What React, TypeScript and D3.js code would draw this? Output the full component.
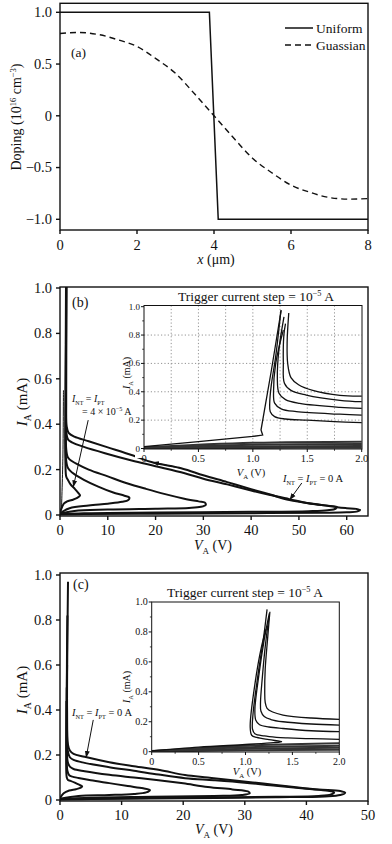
import React from 'react';
import * as d3 from 'd3';

type Pt = [number, number];

const FONT = '"Liberation Serif", "Times New Roman", Times, serif';
const INK = '#111';

// ---------- (a) doping profiles ----------
const uniformX = [0, 3.88, 4.11, 8];
const uniformDoping = [1, 1, -1, -1];
const gaussX = [0, 0.5, 1, 1.5, 2, 2.5, 3, 3.5, 4, 4.5, 5, 5.5, 6, 6.5, 7, 7.5, 8];
const gaussDoping = [0.795, 0.805, 0.785, 0.735, 0.67, 0.55, 0.41, 0.21, 0, -0.21, -0.41, -0.55, -0.67, -0.74, -0.79, -0.805, -0.8];
const dopingTicksX = [0, 2, 4, 6, 8];
const dopingTicksY = [-1, -0.5, 0, 0.5, 1];
const dopingLabelsY = ['\u22121.0', '\u22120.5', '0', '0.5', '1.0'];

// ---------- shared ticks ----------
const currentTicks = [0, 0.2, 0.4, 0.6, 0.8, 1.0];
const currentLabels = ['0', '0.2', '0.4', '0.6', '0.8', '1.0'];
const bTicksV = [0, 10, 20, 30, 40, 50, 60];
const cTicksV = [0, 10, 20, 30, 40, 50];
const insetTicksV = [0, 0.5, 1, 1.5, 2];
const insetLabelsV = ['0', '0.5', '1.0', '1.5', '2.0'];
const insetMinorV = [0.25, 0.75, 1.25, 1.75];
const insetMinorI = [0.1, 0.3, 0.5, 0.7, 0.9];
const gridV = [0.25, 0.5, 0.75, 1, 1.25, 1.5, 1.75];
const gridI = [0.2, 0.4, 0.6, 0.8];

// ---------- (b) uniform doping, I-V loops (V, mA) ----------
const bLoop0: Pt[] = [[0, 0.002], [5, 0.004], [20, 0.006], [40, 0.008], [55, 0.01], [60, 0.012], [62.3, 0.016], [62.8, 0.022], [62, 0.027], [60, 0.03], [58, 0.034], [54, 0.046], [48, 0.066], [44, 0.09], [40, 0.114], [35, 0.145], [30, 0.175], [25.5, 0.205], [19.3, 0.232], [15.3, 0.262], [10, 0.298], [6, 0.325], [3, 0.345], [1.8, 0.362], [1.4, 0.39], [1.3, 0.5], [1.3, 0.7], [1.35, 1.03]];
const bLoop1: Pt[] = [[0, 0.004], [5, 0.008], [20, 0.011], [40, 0.014], [52, 0.017], [56, 0.021], [57.7, 0.028], [57.9, 0.036], [56.5, 0.04], [53, 0.048], [48, 0.07], [44, 0.088], [40, 0.108], [35, 0.135], [30, 0.16], [26.1, 0.184], [20, 0.215], [15, 0.24], [9.4, 0.272], [5, 0.3], [2.5, 0.32], [1.7, 0.332], [1.35, 0.36], [1.25, 0.5], [1.28, 0.7], [1.32, 1.03]];
const bLoop2: Pt[] = [[0, 0.006], [3, 0.018], [10, 0.024], [20, 0.028], [27, 0.031], [29.5, 0.036], [30.5, 0.045], [30.3, 0.055], [29, 0.06], [26, 0.072], [22, 0.092], [18, 0.115], [14, 0.14], [10, 0.17], [6, 0.2], [3.5, 0.225], [2, 0.245], [1.6, 0.256], [1.3, 0.29], [1.22, 0.45], [1.25, 0.7], [1.3, 1.03]];
const bLoop3: Pt[] = [[0, 0.008], [2, 0.03], [6, 0.042], [10, 0.05], [13, 0.058], [14.3, 0.066], [14.5, 0.077], [13.5, 0.085], [11, 0.1], [8, 0.125], [5, 0.155], [3, 0.18], [2, 0.198], [1.6, 0.21], [1.25, 0.25], [1.2, 0.45], [1.25, 0.75], [1.28, 1.03]];
const bLoop4: Pt[] = [[0, 0.01], [0.8, 0.05], [1.5, 0.06], [2.5, 0.066], [3.6, 0.075], [4.2, 0.086], [3.9, 0.095], [3.1, 0.115], [2.2, 0.135], [1.7, 0.153], [1.3, 0.17], [1.15, 0.22], [1.12, 0.4], [1.2, 0.75], [1.26, 1.03]];
const bThin: Pt[] = [[0.3, 0.02], [0.6, 0.25], [0.72, 0.55]];
const bLoops = [bLoop0, bLoop1, bLoop2, bLoop3, bLoop4];

// (b) inset, 0..2 V
const ibRise: Pt[] = [[0, 0.013], [0.5, 0.048], [1.0, 0.085], [1.09, 0.095], [1.075, 0.13], [1.17, 0.55], [1.26, 0.975]];
const ibUp1: Pt[] = [[2.0, 0.37], [1.8, 0.375], [1.55, 0.41], [1.42, 0.45], [1.35, 0.5], [1.32, 0.6], [1.315, 0.75], [1.33, 0.956]];
const ibUp2: Pt[] = [[2.0, 0.33], [1.8, 0.34], [1.49, 0.377], [1.35, 0.41], [1.29, 0.46], [1.28, 0.6], [1.285, 0.8], [1.3, 0.88]];
const ibUp3: Pt[] = [[2.0, 0.283], [1.8, 0.29], [1.43, 0.318], [1.3, 0.345], [1.24, 0.39], [1.225, 0.5], [1.24, 0.7], [1.286, 0.928]];
const ibUp4: Pt[] = [[2.0, 0.236], [1.8, 0.242], [1.4, 0.26], [1.26, 0.28], [1.2, 0.32], [1.19, 0.4], [1.21, 0.6], [1.28, 0.835]];
const ibUp5: Pt[] = [[2.0, 0.182], [1.75, 0.19], [1.5, 0.2], [1.3, 0.208], [1.2, 0.225], [1.16, 0.26], [1.155, 0.32], [1.17, 0.45], [1.21, 0.65], [1.258, 0.975]];
const ibUpper = [ibUp1, ibUp2, ibUp3, ibUp4, ibUp5];
const ibLow: Pt[][] = [
  [[0, 0.008], [1, 0.04], [2, 0.048]],
  [[0, 0.006], [1, 0.026], [2, 0.032]],
  [[0, 0.004], [1, 0.014], [2, 0.018]],
  [[0, 0.002], [1, 0.004], [2, 0.006]],
];

// ---------- (c) gaussian doping ----------
const cLoop0: Pt[] = [[0, 0.002], [5, 0.004], [20, 0.008], [35, 0.012], [43, 0.016], [45.5, 0.022], [46.3, 0.032], [45.5, 0.04], [42, 0.047], [38, 0.058], [33, 0.073], [28, 0.088], [24, 0.1], [20.3, 0.111], [16.2, 0.133], [12, 0.15], [8, 0.168], [4, 0.192], [2.2, 0.205], [1.6, 0.22], [1.3, 0.245], [1.15, 0.4], [1.2, 0.7], [1.3, 0.97]];
const cLoop1: Pt[] = [[0, 0.003], [5, 0.006], [20, 0.01], [35, 0.014], [42, 0.018], [44, 0.025], [44.5, 0.034], [43.5, 0.041], [40, 0.05], [35, 0.063], [30, 0.077], [25, 0.088], [20.3, 0.097], [16, 0.113], [12, 0.13], [8, 0.146], [4, 0.165], [2.2, 0.178], [1.6, 0.19], [1.25, 0.22], [1.12, 0.4], [1.15, 0.7], [1.2, 0.82]];
const cLoop2: Pt[] = [[0, 0.004], [5, 0.01], [15, 0.014], [25, 0.018], [29.5, 0.022], [30.8, 0.03], [30.5, 0.038], [28, 0.047], [24, 0.058], [20, 0.074], [16, 0.088], [12, 0.1], [8, 0.112], [4, 0.128], [2.2, 0.138], [1.6, 0.148], [1.25, 0.17], [1.1, 0.35], [1.15, 0.6]];
const cLoop3: Pt[] = [[0, 0.006], [3, 0.018], [8, 0.022], [12, 0.027], [14, 0.034], [14.6, 0.044], [13.5, 0.052], [11, 0.062], [8, 0.075], [5, 0.088], [3, 0.098], [2, 0.104], [1.5, 0.11], [1.2, 0.13], [1.08, 0.3], [1.1, 0.5]];
const cLoop4: Pt[] = [[0, 0.008], [0.6, 0.03], [1.5, 0.042], [2.6, 0.048], [3.3, 0.054], [3.6, 0.06], [3.1, 0.068], [2.4, 0.077], [1.7, 0.085], [1.3, 0.089], [1.1, 0.1], [1.0, 0.2], [1.05, 0.44]];
const cLoops = [cLoop0, cLoop1, cLoop2, cLoop3, cLoop4];

// (c) inset
const icUp1: Pt[] = [[2.0, 0.216], [1.7, 0.225], [1.4, 0.245], [1.29, 0.265], [1.23, 0.29], [1.21, 0.33], [1.205, 0.4], [1.21, 0.55], [1.235, 0.75], [1.26, 0.935]];
const icUp2: Pt[] = [[2.0, 0.178], [1.7, 0.185], [1.4, 0.2], [1.27, 0.215], [1.2, 0.235], [1.165, 0.27], [1.16, 0.33], [1.18, 0.5], [1.21, 0.7], [1.25, 0.9]];
const icUp3: Pt[] = [[2.0, 0.134], [1.7, 0.14], [1.4, 0.155], [1.25, 0.165], [1.15, 0.18], [1.11, 0.21], [1.1, 0.28], [1.14, 0.5], [1.2, 0.75], [1.254, 0.924]];
const icUp4: Pt[] = [[2.0, 0.083], [1.7, 0.087], [1.45, 0.092], [1.33, 0.096], [1.2, 0.105], [1.1, 0.12], [1.075, 0.15], [1.08, 0.25], [1.13, 0.5], [1.19, 0.75], [1.23, 0.951]];
const icTip: Pt[] = [[0, 0.005], [0.5, 0.03], [1.0, 0.048], [1.3, 0.06], [1.385, 0.067], [1.25, 0.08], [1.12, 0.095], [1.066, 0.11], [1.05, 0.167], [1.1, 0.45], [1.17, 0.7], [1.22, 0.82]];
const icUpper = [icUp1, icUp2, icUp3, icUp4, icTip];
const icLow: Pt[][] = [
  [[0, 0.004], [1, 0.04], [2, 0.056]],
  [[0, 0.003], [1, 0.03], [2, 0.04]],
  [[0, 0.002], [1, 0.02], [2, 0.027]],
  [[0, 0.001], [1, 0.009], [2, 0.013]],
];

// annotation arrows (data units)
const bArrow4: Pt[] = [[5.9, 0.418], [2.8, 0.125]];
const bArrow0: Pt[] = [[50.6, 0.141], [48.1, 0.068]];
const bSweep: Pt[] = [[25.5, 0.205], [19.4, 0.232]];
const cArrow0: Pt[] = [[5.4, 0.356], [4.25, 0.19]];

const mkLine = (x: any, y: any, curve: any = d3.curveCatmullRom.alpha(0.5)) =>
  d3.line<Pt>().x(d => x(d[0])).y(d => y(d[1])).curve(curve);

type Box = { left: number; right: number; top: number; bottom: number };

function Axes(p: {
  box: Box; x: any; y: any; xt: number[]; xl: string[]; yt: number[]; yl: string[];
  fsX: number; fsY: number; xDy: number; yDx: number; tick: number; sw: number;
  xm?: number[]; ym?: number[];
}) {
  const { box, x, y } = p;
  return (
    <g fill={INK}>
      <rect x={box.left} y={box.top} width={box.right - box.left} height={box.bottom - box.top}
        fill="none" stroke={INK} strokeWidth={p.sw} />
      {p.xt.map((v, i) => (
        <g key={'xt' + i}>
          <line x1={x(v)} x2={x(v)} y1={box.bottom} y2={box.bottom + p.tick} stroke={INK} strokeWidth={p.sw} />
          <text x={x(v)} y={box.bottom + p.xDy} textAnchor="middle" fontSize={p.fsX}>{p.xl[i]}</text>
        </g>
      ))}
      {(p.xm || []).map((v, i) => (
        <line key={'xm' + i} x1={x(v)} x2={x(v)} y1={box.bottom} y2={box.bottom + p.tick * 0.6} stroke={INK} strokeWidth={p.sw * 0.8} />
      ))}
      {p.yt.map((v, i) => (
        <g key={'yt' + i}>
          <line x1={box.left - p.tick} x2={box.left} y1={y(v)} y2={y(v)} stroke={INK} strokeWidth={p.sw} />
          <text x={box.left - p.yDx} y={y(v) + p.fsY * 0.34} textAnchor="end" fontSize={p.fsY}>{p.yl[i]}</text>
        </g>
      ))}
      {(p.ym || []).map((v, i) => (
        <line key={'ym' + i} x1={box.left - p.tick * 0.6} x2={box.left} y1={y(v)} y2={y(v)} stroke={INK} strokeWidth={p.sw * 0.8} />
      ))}
    </g>
  );
}

function IA({ x, y, fs }: { x: number; y: number; fs: number }) {
  return (
    <text transform={`translate(${x},${y}) rotate(-90)`} textAnchor="middle" fontSize={fs} fill={INK}>
      <tspan fontStyle="italic">I</tspan>
      <tspan fontSize={fs * 0.65} dy={fs * 0.25}>A</tspan>
      <tspan dy={-fs * 0.25}> (mA)</tspan>
    </text>
  );
}

function VA({ x, y, fs }: { x: number; y: number; fs: number }) {
  return (
    <text x={x} y={y} textAnchor="middle" fontSize={fs} fill={INK}>
      <tspan fontStyle="italic">V</tspan>
      <tspan fontSize={fs * 0.65} dy={fs * 0.25}>A</tspan>
      <tspan dy={-fs * 0.25}> (V)</tspan>
    </text>
  );
}

function Inj({ fs }: { fs: number }) {
  return (
    <>
      <tspan fontStyle="italic">I</tspan>
      <tspan fontSize={fs * 0.6} dy={fs * 0.25}>NT</tspan>
      <tspan dy={-fs * 0.25}> = </tspan>
      <tspan fontStyle="italic">I</tspan>
      <tspan fontSize={fs * 0.6} dy={fs * 0.25}>PT</tspan>
      <tspan dy={-fs * 0.25}>{'\u00a0'}</tspan>
    </>
  );
}

function Trigger({ x, y, fs }: { x: number; y: number; fs: number }) {
  return (
    <text x={x} y={y} textAnchor="middle" fontSize={fs} fill={INK}>
      Trigger current step = 10
      <tspan fontSize={fs * 0.62} dy={-fs * 0.38}>{'\u22125'}</tspan>
      <tspan dy={fs * 0.38}> A</tspan>
    </text>
  );
}

export default function App() {
  // ----- (a) -----
  const boxA: Box = { left: 60, right: 368, top: 3.3, bottom: 230 };
  const xa = d3.scaleLinear().domain([0, 8]).range([60, 368]);
  const ya = d3.scaleLinear().domain([-1, 1]).range([219.3, 12.3]);
  const uniformPath = mkLine(xa, ya, d3.curveLinear)(uniformX.map((v, i) => [v, uniformDoping[i]] as Pt));
  const gaussPath = mkLine(xa, ya, d3.curveMonotoneX)(gaussX.map((v, i) => [v, gaussDoping[i]] as Pt));

  // ----- (b) -----
  const boxB: Box = { left: 60, right: 368, top: 287, bottom: 516 };
  const xb = d3.scaleLinear().domain([0, 60]).range([60, 346.7]);
  const yb = d3.scaleLinear().domain([0, 1]).range([515, 288]);
  const lb = mkLine(xb, yb);
  const boxBi: Box = { left: 144, right: 362, top: 305.5, bottom: 449 };
  const xbi = d3.scaleLinear().domain([0, 2]).range([144, 361.7]);
  const ybi = d3.scaleLinear().domain([0, 1]).range([448.5, 306.7]);
  const lbi = mkLine(xbi, ybi);

  // ----- (c) -----
  const boxC: Box = { left: 60, right: 368, top: 573, bottom: 801 };
  const xc = d3.scaleLinear().domain([0, 50]).range([60, 368]);
  const yc = d3.scaleLinear().domain([0, 1]).range([800, 575]);
  const lc = mkLine(xc, yc);
  const boxCi: Box = { left: 151.7, right: 339.3, top: 602, bottom: 752 };
  const xci = d3.scaleLinear().domain([0, 2]).range([151.7, 339.3]);
  const yci = d3.scaleLinear().domain([0, 1]).range([751.7, 602]);
  const lci = mkLine(xci, yci);

  const straight = (x: any, y: any) => mkLine(x, y, d3.curveLinear);

  const clip = (id: string, b: Box) => (
    <clipPath id={id}>
      <rect x={b.left} y={b.top} width={b.right - b.left} height={b.bottom - b.top} />
    </clipPath>
  );

  return (
    <svg width={392} height={844} style={{ position: 'absolute', left: 0, top: 0, background: '#fff' }}
      fontFamily={FONT}>
      <defs>
        {clip('cb', boxB)}
        {clip('cbi', boxBi)}
        {clip('cc', boxC)}
        {clip('cci', boxCi)}
        <marker id="arr" viewBox="0 0 10 10" refX="9" refY="5" markerWidth="7" markerHeight="7"
          orient="auto" markerUnits="userSpaceOnUse">
          <path d="M0,1.5 L10,5 L0,8.5 z" fill={INK} />
        </marker>
      </defs>

      {/* ---------- panel (a) ---------- */}
      <Axes box={boxA} x={xa} y={ya} xt={dopingTicksX} xl={dopingTicksX.map(String)}
        yt={dopingTicksY} yl={dopingLabelsY} fsX={14.5} fsY={14.5} xDy={20} yDx={8} tick={4} sw={1.4} />
      <path d={uniformPath || ''} fill="none" stroke={INK} strokeWidth={1.5} />
      <path d={gaussPath || ''} fill="none" stroke={INK} strokeWidth={1.4} strokeDasharray="6 4" />
      <line x1={285} x2={313} y1={28} y2={28} stroke={INK} strokeWidth={1.5} />
      <text x={316} y={33} fontSize={13.5} fill={INK}>Uniform</text>
      <line x1={285} x2={313} y1={45} y2={45} stroke={INK} strokeWidth={1.4} strokeDasharray="6 4" />
      <text x={316} y={50} fontSize={13.5} fill={INK}>Guassian</text>
      <text x={71} y={57} fontSize={13.5} fill={INK}>(a)</text>
      <text transform="translate(21,117) rotate(-90)" textAnchor="middle" fontSize={14} fill={INK}>
        Doping (10<tspan fontSize={8.5} dy={-5}>16</tspan><tspan dy={5}> cm</tspan>
        <tspan fontSize={8.5} dy={-5}>{'\u22123'}</tspan><tspan dy={5}>)</tspan>
      </text>
      <text x={216} y={264} textAnchor="middle" fontSize={14} fill={INK}>
        <tspan fontStyle="italic">x</tspan> ({'\u03bc'}m)
      </text>

      {/* ---------- panel (b) ---------- */}
      <Axes box={boxB} x={xb} y={yb} xt={bTicksV} xl={bTicksV.map(String)}
        yt={currentTicks} yl={currentLabels} fsX={14.5} fsY={14.5} xDy={19} yDx={8} tick={4} sw={1.4} />
      <g clipPath="url(#cb)" fill="none" stroke={INK}>
        {bLoops.map((d, i) => <path key={i} d={lb(d) || ''} strokeWidth={2} />)}
        <path d={lb(bThin) || ''} strokeWidth={1} />
      </g>
      <text x={72} y={307} fontSize={14} fill={INK}>(b)</text>
      <IA x={27} y={402} fs={15} />
      <VA x={213} y={550} fs={14} />

      {/* inset (b) */}
      <rect x={135} y={289} width={231} height={169} fill="#fff" />
      <Trigger x={256} y={301} fs={13.5} />
      <g clipPath="url(#cbi)">
        {gridV.map((v, i) => (
          <line key={'gv' + i} x1={xbi(v)} x2={xbi(v)} y1={boxBi.top} y2={boxBi.bottom} stroke="#777" strokeWidth={0.8} strokeDasharray="1.2 2.2" />
        ))}
        {gridI.map((v, i) => (
          <line key={'gi' + i} x1={boxBi.left} x2={boxBi.right} y1={ybi(v)} y2={ybi(v)} stroke="#777" strokeWidth={0.8} strokeDasharray="1.2 2.2" />
        ))}
        <g fill="none">
          {ibLow.map((d, i) => <path key={i} d={lbi(d) || ''} stroke="#333" strokeWidth={2} />)}
          <path d={straight(xbi, ybi)(ibRise) || ''} stroke={INK} strokeWidth={1.3} />
          {ibUpper.map((d, i) => <path key={i} d={lbi(d) || ''} stroke={INK} strokeWidth={1.3} />)}
        </g>
      </g>
      <Axes box={boxBi} x={xbi} y={ybi} xt={insetTicksV} xl={insetLabelsV}
        yt={currentTicks} yl={currentLabels} fsX={10.5} fsY={9} xDy={13} yDx={4} tick={3} sw={1}
        xm={insetMinorV} ym={insetMinorI} />
      <IA x={130} y={373} fs={10} />
      <VA x={251} y={476} fs={10.5} />
      <path d={straight(xb, yb)(bSweep) || ''} stroke={INK} strokeWidth={1} markerEnd="url(#arr)" />

      {/* (b) annotations */}
      <path d={straight(xb, yb)(bArrow4) || ''} stroke={INK} strokeWidth={1} markerEnd="url(#arr)" />
      <path d={straight(xb, yb)(bArrow0) || ''} stroke={INK} strokeWidth={1} markerEnd="url(#arr)" />
      <text x={72} y={402} fontSize={10} fill={INK}><Inj fs={10} /></text>
      <text x={82} y={415} fontSize={10} fill={INK}>
        = 4 {'\u00d7'} 10<tspan fontSize={6.2} dy={-4}>{'\u22125'}</tspan><tspan dy={4}> A</tspan>
      </text>
      <text x={283} y={482} fontSize={10.5} fill={INK}><Inj fs={10.5} />= 0 A</text>

      {/* ---------- panel (c) ---------- */}
      <Axes box={boxC} x={xc} y={yc} xt={cTicksV} xl={cTicksV.map(String)}
        yt={currentTicks} yl={currentLabels} fsX={14.5} fsY={14.5} xDy={19} yDx={8} tick={4} sw={1.4} />
      <g clipPath="url(#cc)" fill="none" stroke={INK}>
        {cLoops.map((d, i) => <path key={i} d={lc(d) || ''} strokeWidth={2} />)}
      </g>
      <path d={straight(xc, yc)(cArrow0) || ''} stroke={INK} strokeWidth={1} markerEnd="url(#arr)" />
      <text x={72} y={716} fontSize={10.5} fill={INK}><Inj fs={10.5} />= 0 A</text>
      <text x={73} y={589} fontSize={14} fill={INK}>(c)</text>
      <IA x={27} y={690} fs={15} />
      <VA x={214} y={834} fs={14} />

      {/* inset (c) */}
      <rect x={136} y={588} width={212} height={170} fill="#fff" />
      <Trigger x={245} y={597} fs={13.5} />
      <g clipPath="url(#cci)" fill="none">
        {icLow.map((d, i) => <path key={i} d={lci(d) || ''} stroke="#333" strokeWidth={2} />)}
        {icUpper.map((d, i) => <path key={i} d={lci(d) || ''} stroke={INK} strokeWidth={1.3} />)}
      </g>
      <Axes box={boxCi} x={xci} y={yci} xt={insetTicksV} xl={insetLabelsV}
        yt={currentTicks} yl={currentLabels} fsX={10} fsY={10} xDy={13} yDx={4} tick={3} sw={1}
        xm={insetMinorV} ym={insetMinorI} />
      <IA x={130} y={687} fs={10} />
      <VA x={247} y={775} fs={10.5} />
    </svg>
  );
}
